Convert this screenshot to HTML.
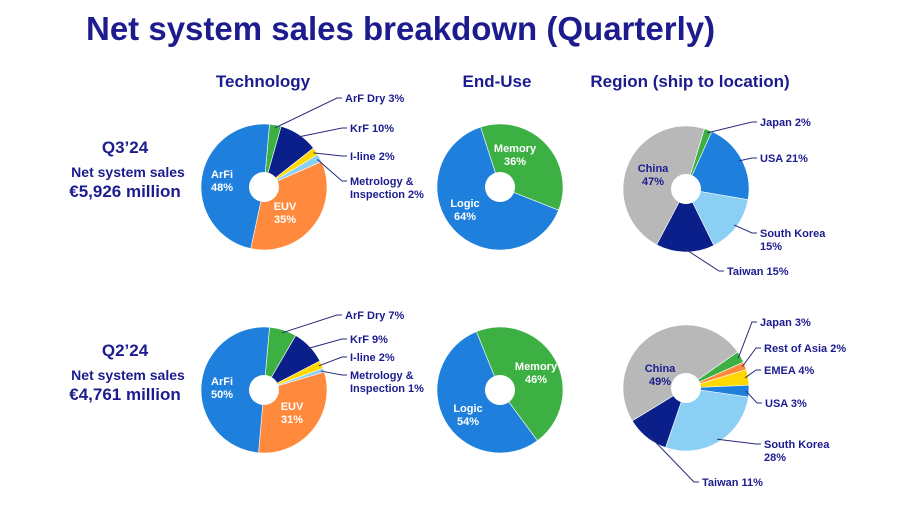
<!DOCTYPE html>
<html><head><meta charset="utf-8"><style>
body{margin:0;background:#fff;font-family:"Liberation Sans",sans-serif}
svg text{font-family:"Liberation Sans",sans-serif;font-weight:bold}
</style></head><body>
<svg id="c" width="900" height="500">
<text x="86" y="40" font-size="33" fill="#1c1c8e">Net system sales breakdown (Quarterly)</text>
<text x="263" y="87" font-size="17" fill="#1c1c8e" text-anchor="middle">Technology</text>
<text x="497" y="87" font-size="17" fill="#1c1c8e" text-anchor="middle">End-Use</text>
<text x="690" y="87" font-size="17" fill="#1c1c8e" text-anchor="middle">Region (ship to location)</text>
<g fill="#1c1c8e" text-anchor="middle">
<text x="125" y="153" font-size="17">Q3’24</text>
<text x="128" y="177" font-size="14">Net system sales</text>
<text x="125" y="197" font-size="17">€5,926 million</text>
</g>
<g fill="#1c1c8e" text-anchor="middle">
<text x="125" y="356" font-size="17">Q2’24</text>
<text x="128" y="380" font-size="14">Net system sales</text>
<text x="125" y="400" font-size="17">€4,761 million</text>
</g>
<g id="pies"></g>
<g id="labels" font-size="11" fill="#1c1c8e"></g>
</svg>
<script>
const techNames=["ArF Dry","KrF","I-line","Metrology","EUV","ArFi"];
const techColors=["#3cb043","#0b1f8a","#ffd800","#8ccff5","#ff8a3d","#1e7fdc"];
const techQ3=[3,10,2,2,35,48];
const techQ2=[7,9,2,1,31,50];
const endNames=["Memory","Logic"];
const endColors=["#3cb043","#1e7fdc"];
const endQ3=[36,64];
const endQ2=[46,54];
const regNamesQ3=["Japan","USA","South Korea","Taiwan","China"];
const regColorsQ3=["#3cb043","#1e7fdc","#8ccff5","#0b1f8a","#b8b8b8"];
const regQ3=[2,21,15,15,47];
const regNamesQ2=["Japan","Rest of Asia","EMEA","USA","South Korea","Taiwan","China"];
const regColorsQ2=["#3cb043","#ff8a3d","#ffd800","#1e7fdc","#8ccff5","#0b1f8a","#b8b8b8"];
const regQ2=[3,2,4,3,28,11,49];
const NS="http://www.w3.org/2000/svg";
const pies=document.getElementById('pies');
function pt(cx,cy,r,a){const t=(a-90)*Math.PI/180;return [cx+r*Math.cos(t),cy+r*Math.sin(t)];}
function pie(id,cx,cy,r,vals,colors,names,start){
 const g=document.createElementNS(NS,'g');
 
 
 const tot=vals.reduce((a,b)=>a+b,0);let a=start;const mids=[];
 vals.forEach((v,i)=>{const sw=v/tot*360;const p1=pt(cx,cy,r,a),p2=pt(cx,cy,r,a+sw);
  const p=document.createElementNS(NS,'path');
  p.setAttribute('d',`M${cx},${cy}L${p1[0]},${p1[1]}A${r},${r} 0 ${sw>180?1:0} 1 ${p2[0]},${p2[1]}Z`);
  p.setAttribute('fill',colors[i]);p.setAttribute('stroke','#fff');p.setAttribute('stroke-width','0.6');
  
  
  g.appendChild(p);mids.push(a+sw/2);a+=sw;});
 const h=document.createElementNS(NS,'circle');h.setAttribute('cx',cx);h.setAttribute('cy',cy);h.setAttribute('r',15);h.setAttribute('fill','#fff');
 
 
 g.appendChild(h);pies.appendChild(g);return mids;
}
const m1=pie('pie-tech-q3',264,187,63,techQ3,techColors,techNames,5);
const m2=pie('pie-enduse-q3',500,187,63,endQ3,endColors,endNames,-18);
const m3=pie('pie-region-q3',686,189,63,regQ3,regColorsQ3,regNamesQ3,17);
const m4=pie('pie-tech-q2',264,390,63,techQ2,techColors,techNames,5);
const m5=pie('pie-enduse-q2',500,390,63,endQ2,endColors,endNames,-22);
const m6=pie('pie-region-q2',686,388,63,regQ2,regColorsQ2,regNamesQ2,55);
const L=document.getElementById('labels');
function lab(x,y,lines,col,anchor,name){
 const t=document.createElementNS(NS,'text');t.setAttribute('x',x);t.setAttribute('y',y);
 if(col)t.setAttribute('fill',col);if(anchor)t.setAttribute('text-anchor',anchor);
 
 
 lines.forEach((s,i)=>{const ts=document.createElementNS(NS,'tspan');ts.setAttribute('x',x);ts.setAttribute('dy',i?13:0);ts.textContent=s;t.appendChild(ts);});
 L.appendChild(t);
}
function line(pts,name){const p=document.createElementNS(NS,'polyline');p.setAttribute('points',pts.map(q=>q.join(',')).join(' '));
 p.setAttribute('fill','none');p.setAttribute('stroke','#2a2a7a');p.setAttribute('stroke-width','1');
 
 
 L.appendChild(p);}
function callout(cx,cy,mid,lx,ly,txt,name){const e=pt(cx,cy,60,mid);line([e,[lx-8,ly],[lx-3,ly]],name+'-leader');lab(lx,ly+4,txt,null,null,name+'-label');}
callout(264,187,m1[0],345,98,["ArF Dry "+techQ3[0]+"%"],'arfdry-q3');
callout(264,187,m1[1],350,128,["KrF "+techQ3[1]+"%"],'krf-q3');
callout(264,187,m1[2],350,156,["I-line "+techQ3[2]+"%"],'iline-q3');
callout(264,187,m1[3],350,181,["Metrology &","Inspection "+techQ3[3]+"%"],'metro-q3');
lab(222,178,["ArFi",techQ3[5]+"%"],"#fff","middle",'arfi-q3-label');
lab(285,210,["EUV",techQ3[4]+"%"],"#fff","middle",'euv-q3-label');
callout(264,390,m4[0],345,315,["ArF Dry "+techQ2[0]+"%"],'arfdry-q2');
callout(264,390,m4[1],350,339,["KrF "+techQ2[1]+"%"],'krf-q2');
callout(264,390,m4[2],350,357,["I-line "+techQ2[2]+"%"],'iline-q2');
callout(264,390,m4[3],350,375,["Metrology &","Inspection "+techQ2[3]+"%"],'metro-q2');
lab(222,385,["ArFi",techQ2[5]+"%"],"#fff","middle",'arfi-q2-label');
lab(292,410,["EUV",techQ2[4]+"%"],"#fff","middle",'euv-q2-label');
lab(515,152,["Memory",endQ3[0]+"%"],"#fff","middle",'memory-q3-label');
lab(465,207,["Logic",endQ3[1]+"%"],"#fff","middle",'logic-q3-label');
lab(536,370,["Memory",endQ2[0]+"%"],"#fff","middle",'memory-q2-label');
lab(468,412,["Logic",endQ2[1]+"%"],"#fff","middle",'logic-q2-label');
callout(686,189,m3[0],760,122,["Japan "+regQ3[0]+"%"],'japan-q3');
callout(686,189,m3[1],760,158,["USA "+regQ3[1]+"%"],'usa-q3');
callout(686,189,m3[2],760,233,["South Korea",regQ3[2]+"%"],'korea-q3');
callout(686,189,m3[3],727,271,["Taiwan "+regQ3[3]+"%"],'taiwan-q3');
lab(653,172,["China",regQ3[4]+"%"],null,"middle",'china-q3-label');
callout(686,388,m6[0],760,322,["Japan "+regQ2[0]+"%"],'japan-q2');
callout(686,388,m6[1],764,348,["Rest of Asia "+regQ2[1]+"%"],'roa-q2');
callout(686,388,m6[2],764,370,["EMEA "+regQ2[2]+"%"],'emea-q2');
callout(686,388,m6[3],765,403,["USA "+regQ2[3]+"%"],'usa-q2');
callout(686,388,m6[4],764,444,["South Korea",regQ2[4]+"%"],'korea-q2');
callout(686,388,m6[5],702,482,["Taiwan "+regQ2[5]+"%"],'taiwan-q2');
lab(660,372,["China",regQ2[6]+"%"],null,"middle",'china-q2-label');
</script>
</body></html>
